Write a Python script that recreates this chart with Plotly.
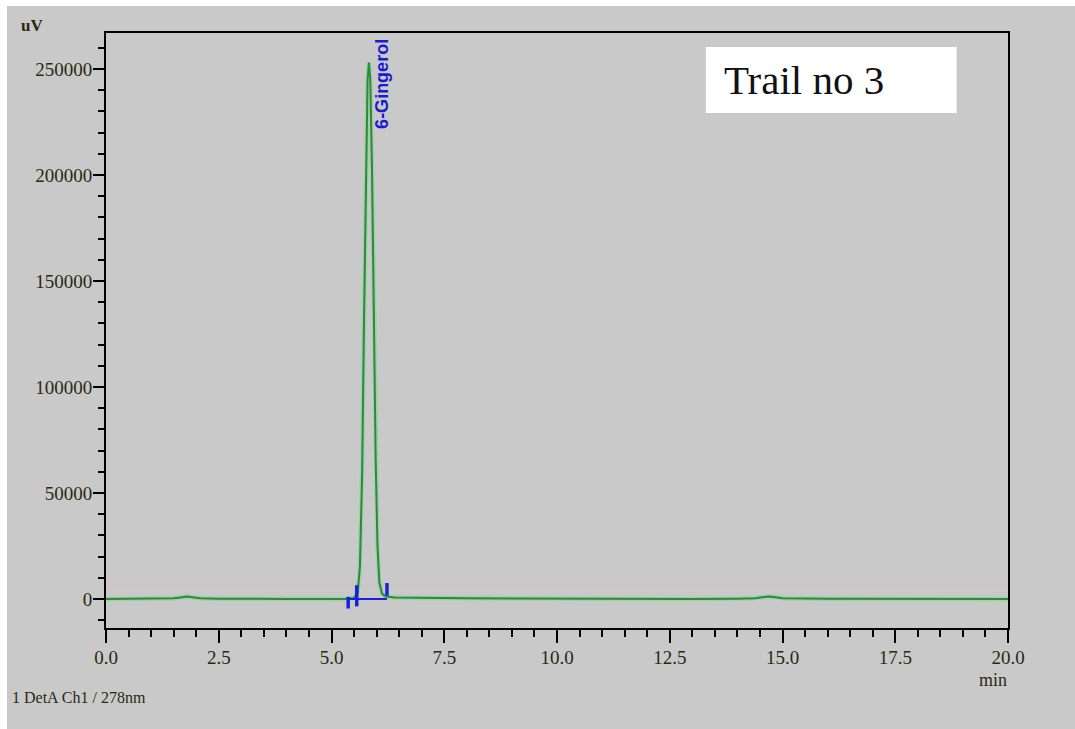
import plotly.graph_objects as go

# ---- data ----
time_min = [0.0, 0.5, 1.0, 1.5, 1.65, 1.8, 1.95, 2.1, 2.5, 3.0, 4.0, 5.0, 5.3, 5.5, 5.58,
            5.63, 5.68, 5.72, 5.76, 5.80, 5.83, 5.86, 5.90, 5.94, 5.98, 6.02, 6.06, 6.12,
            6.20, 6.40, 7.0, 8.0, 9.0, 10.0, 11.0, 12.0, 13.0, 14.0, 14.4, 14.55, 14.7,
            14.85, 15.0, 16.0, 17.0, 18.0, 19.0, 20.0]
signal_uV = [0, 0, 100, 300, 700, 1100, 700, 300, 100, 0, 0, 0, 0, 500, 3000,
             15000, 60000, 130000, 200000, 245000, 253000, 245000, 200000, 130000, 65000,
             25000, 8000, 2500, 1200, 700, 500, 300, 200, 100, 100, 0, 0, 100, 300, 800,
             1200, 800, 300, 100, 0, 0, 0, 0]

peak_name = "6-Gingerol"
peak_label_time = 6.12
peak_label_value = 243000

# integration marks (time, low, high)
mark_times = [5.37, 5.56, 6.23]
mark_low = [-4500, -3500, 1500]
mark_high = [1000, 6500, 7500]
baseline_times = [5.37, 6.23]
baseline_vals = [0, 0]

faint_times = [0.0, 20.0]
faint_vals = [6800, 6800]

x_ticks = [0.0, 2.5, 5.0, 7.5, 10.0, 12.5, 15.0, 17.5, 20.0]
y_ticks = [0, 50000, 100000, 150000, 200000, 250000]

GRAY = "#c9c9c9"
TXT = "#2a2a12"
SERIF = "Liberation Serif, Times New Roman, serif"

fig = go.Figure()

fig.add_trace(go.Scatter(x=faint_times, y=faint_vals, mode="lines",
                         line=dict(color="rgba(225,180,195,0.6)", width=1.5),
                         hoverinfo="skip", showlegend=False))
fig.add_trace(go.Scatter(x=time_min, y=signal_uV, mode="lines",
                         line=dict(color="rgba(130,210,140,0.55)", width=4.5),
                         hoverinfo="skip", showlegend=False))
fig.add_trace(go.Scatter(x=time_min, y=signal_uV, mode="lines",
                         line=dict(color="#2c8a3c", width=2),
                         showlegend=False))
fig.add_trace(go.Scatter(x=baseline_times, y=baseline_vals, mode="lines",
                         line=dict(color="#1a22d8", width=2), showlegend=False))
mx, my = [], []
for t, lo, hi in zip(mark_times, mark_low, mark_high):
    mx += [t, t, None]
    my += [lo, hi, None]
fig.add_trace(go.Scatter(x=mx, y=my, mode="lines",
                         line=dict(color="#1a22d8", width=3.5), showlegend=False))

fig.add_annotation(x=peak_label_time, y=peak_label_value, xref="x", yref="y",
                   xanchor="center", yanchor="middle",
                   text="<b>" + peak_name + "</b>", textangle=-90, showarrow=False,
                   font=dict(family="Liberation Sans, Arial, sans-serif", size=18, color="#1a1ad0"))

# Trail box
fig.add_shape(type="rect", xref="paper", yref="paper", x0=0.665, x1=0.943, y0=0.8655, y1=0.9765,
              fillcolor="white", line=dict(width=0), layer="above")
fig.add_annotation(xref="paper", yref="paper", x=0.6825, y=0.921, xanchor="left", yanchor="middle",
                   text="Trail no 3", showarrow=False,
                   font=dict(family=SERIF, size=41, color="#111111"))

# white image borders
fig.add_shape(type="rect", xref="paper", yref="paper", x0=-0.2, x1=-0.1098, y0=-0.3, y1=1.2,
              fillcolor="white", line=dict(width=0), layer="above")
fig.add_shape(type="rect", xref="paper", yref="paper", x0=-0.2, x1=1.2, y0=1.0454, y1=1.2,
              fillcolor="white", line=dict(width=0), layer="above")

fig.add_annotation(xref="paper", yref="paper", x=-0.0825, y=1.0125, xanchor="center", yanchor="middle",
                   text="<b>uV</b>", showarrow=False,
                   font=dict(family=SERIF, size=17, color=TXT))
fig.add_annotation(xref="paper", yref="paper", x=0.9835, y=-0.0875, xanchor="center", yanchor="middle",
                   text="min", showarrow=False,
                   font=dict(family=SERIF, size=18, color=TXT))
fig.add_annotation(xref="paper", yref="paper", x=-0.1064, y=-0.1165, xanchor="left", yanchor="middle",
                   text="1 DetA Ch1 / 278nm", showarrow=False,
                   font=dict(family=SERIF, size=16, color=TXT))

fig.update_xaxes(range=[0, 20], tickvals=x_ticks, ticktext=[f"{v:.1f}" for v in x_ticks],
                 ticks="outside", ticklen=13, tickwidth=2, tickcolor="black",
                 showline=True, linewidth=2, linecolor="black", mirror=True,
                 showgrid=False, zeroline=False, ticklabelstandoff=-2,
                 tickfont=dict(family=SERIF, size=19, color=TXT),
                 minor=dict(dtick=0.5, tick0=0, ticks="outside", ticklen=7, tickwidth=2,
                            tickcolor="black", showgrid=False))
fig.update_yaxes(range=[-13700, 267000], tickvals=y_ticks, ticktext=[str(v) for v in y_ticks],
                 ticks="outside", ticklen=11, tickwidth=2, tickcolor="black",
                 showline=True, linewidth=2, linecolor="black", mirror=True,
                 showgrid=False, zeroline=False, ticklabelstandoff=-3,
                 tickfont=dict(family=SERIF, size=19, color=TXT),
                 minor=dict(dtick=10000, tick0=0, ticks="outside", ticklen=6, tickwidth=2,
                            tickcolor="black", showgrid=False))

fig.update_layout(width=1075, height=729, autosize=False,
                  margin=dict(l=106, r=67, t=33, b=101, pad=0),
                  paper_bgcolor=GRAY, plot_bgcolor=GRAY, showlegend=False)

fig.write_html("out.html")
